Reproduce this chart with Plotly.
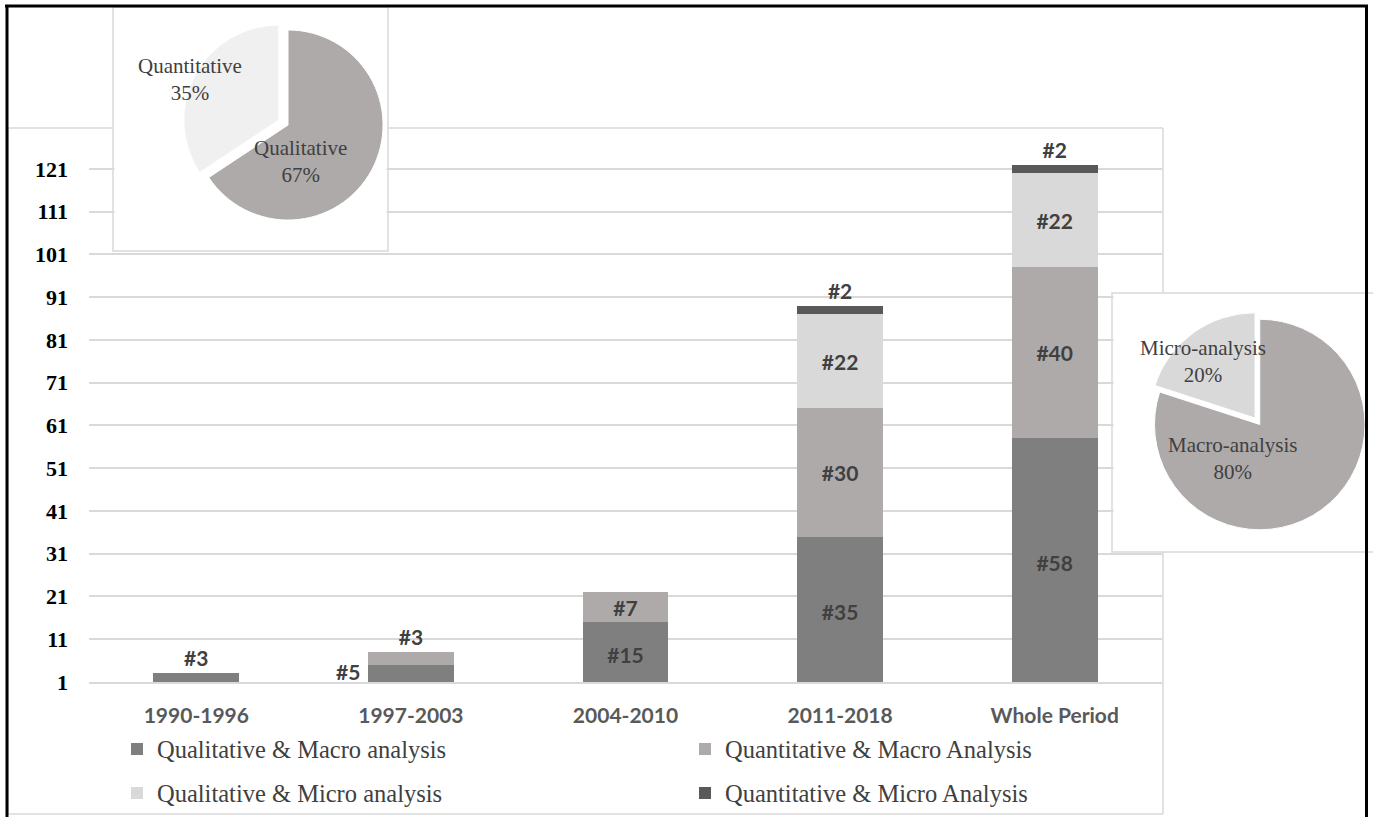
import plotly.graph_objects as go

# ---------------- data ----------------
categories = ["1990-1996", "1997-2003", "2004-2010", "2011-2018", "Whole Period"]
qual_macro = [3, 5, 15, 35, 58]
quant_macro = [None, 3, 7, 30, 40]
qual_micro = [None, None, None, 22, 22]
quant_micro = [None, None, None, 2, 2]
series_names = [
    "Qualitative & Macro analysis",
    "Quantitative & Macro Analysis",
    "Qualitative & Micro analysis",
    "Quantitative & Micro Analysis",
]
series_colors = ["#7f7f7f", "#aeaaaa", "#d9d9d9", "#595959"]

method_labels = ["Qualitative", "Quantitative"]
method_values = [67, 35]
method_pct_text = ["67%", "35%"]
method_colors = ["#aeaaaa", "#f0f0f0"]

scope_labels = ["Macro-analysis", "Micro-analysis"]
scope_values = [80, 20]
scope_pct_text = ["80%", "20%"]
scope_colors = ["#aeaaaa", "#d9d9d9"]

y_tick_values = [1, 11, 21, 31, 41, 51, 61, 71, 81, 91, 101, 111, 121]

# ---------------- layout geometry (pixels) ----------------
W, H = 1373, 817
PL, PR = 89, 1162          # plot area left/right
PB, PT = 682, 139          # plot area bottom/top
Y0, Y1 = 1, 128            # y range


def px(x):
    return x / W


def py(y):
    return 1 - y / H


def dx(x):
    return (x - PL) / ((PR - PL) / len(categories)) - 0.5


def dy(y):
    return Y0 + (PB - y) / ((PB - PT) / (Y1 - Y0))


BAR_FONT = dict(family="Lato", size=21, color="#404040", weight="bold")
SERIF = "Liberation Serif"

fig = go.Figure()

series = [qual_macro, quant_macro, qual_micro, quant_micro]
positions = [
    ["outside", "none", "inside", "inside", "inside"],
    ["inside", "outside", "inside", "inside", "inside"],
    ["inside", "inside", "inside", "inside", "inside"],
    ["outside", "outside", "outside", "outside", "outside"],
]
for i, (vals, name, col, pos) in enumerate(zip(series, series_names, series_colors, positions)):
    labels = [("#%d" % v) if v is not None else "" for v in vals]
    fig.add_trace(go.Bar(
        x=categories, y=vals, name=name,
        marker=dict(color=col, line=dict(width=0)),
        text=labels, texttemplate="%{text}", textposition=pos,
        insidetextanchor="middle", constraintext="none", textangle=0,
        textfont=BAR_FONT, insidetextfont=BAR_FONT, outsidetextfont=BAR_FONT,
        legend="legend" if i < 2 else "legend2",
    ))

# inset pies
fig.add_trace(go.Pie(
    labels=method_labels, values=method_values, sort=False, direction="clockwise",
    rotation=0, pull=[0, 0.11], textinfo="none", showlegend=False,
    marker=dict(colors=method_colors, line=dict(color="white", width=1)),
    domain=dict(x=[px(182.5), px(393.5)], y=[py(230.5), py(19.5)]),
))
fig.add_trace(go.Pie(
    labels=scope_labels, values=scope_values, sort=False, direction="clockwise",
    rotation=0, pull=[0, 0.076], textinfo="none", showlegend=False,
    marker=dict(colors=scope_colors, line=dict(color="white", width=1)),
    domain=dict(x=[px(1146.5), 1.0], y=[py(537.75), py(311.25)]),
))

GRID = "#d9d9d9"
shapes = []


def line(x0, y0, x1, y1, color=GRID, width=1.5, layer="below"):
    shapes.append(dict(type="line", xref="paper", yref="paper",
                       x0=px(x0), y0=py(y0), x1=px(x1), y1=py(y1),
                       line=dict(color=color, width=width), layer=layer))


# chart frame (split where insets cover it)
line(8, 128, 8, 814)
line(8, 814, 1163, 814)
line(8, 128, 113, 128)
line(388, 128, 1163, 128)
line(1163, 128, 1163, 293)
line(1163, 552, 1163, 814)
# inset frames
shapes.append(dict(type="rect", xref="paper", yref="paper", x0=px(113), x1=px(388),
                   y0=py(251), y1=py(7), line=dict(color=GRID, width=1.5), layer="below"))
shapes.append(dict(type="rect", xref="paper", yref="paper", x0=px(1112), x1=px(1390),
                   y0=py(552), y1=py(293), line=dict(color=GRID, width=1.5), layer="below"))
# white backgrounds of insets hiding gridlines
shapes.append(dict(type="rect", xref="x", yref="y", x0=dx(114.5), x1=dx(386.5),
                   y0=dy(249.8), y1=dy(8), fillcolor="white", line=dict(width=0), layer="between"))
shapes.append(dict(type="rect", xref="x", yref="y", x0=dx(1113.5), x1=dx(1400),
                   y0=dy(550.8), y1=dy(294.2), fillcolor="white", line=dict(width=0), layer="between"))
# outer black border
line(7, 5, 7, 817, color="black", width=3, layer="above")
line(5, 6, 1368, 6, color="black", width=3, layer="above")
line(1366.5, 5, 1366.5, 817, color="black", width=3, layer="above")

PIE_FONT = dict(family=SERIF, size=21, color="#404040")
pie_ann = dict(xref="paper", yref="paper", showarrow=False, font=PIE_FONT,
               xanchor="center", yanchor="middle", align="center")
annotations = [
    dict(x=px(190), y=py(80), text=f"{method_labels[1]}<br>{method_pct_text[1]}", **pie_ann),
    dict(x=px(300), y=py(161), text=f"{method_labels[0]}<br>{method_pct_text[0]}", **pie_ann),
    dict(x=px(1203), y=py(362), text=f"{scope_labels[1]}<br>{scope_pct_text[1]}", **pie_ann),
    dict(x=px(1232), y=py(459), text=f"{scope_labels[0]}<br>{scope_pct_text[0]}", **pie_ann),
    dict(xref="x", yref="y", x=categories[1], y=3.5, xanchor="right", yanchor="middle",
         xshift=-49, text=f"#{qual_macro[1]}", showarrow=False, font=BAR_FONT),
]

LEG_FONT = dict(family=SERIF, size=24.5, color="#404040")
legend_common = dict(orientation="h", xanchor="left", yanchor="middle",
                     entrywidth=523, entrywidthmode="pixels", font=LEG_FONT,
                     bgcolor="rgba(0,0,0,0)", traceorder="normal", itemclick=False)

fig.update_layout(
    template="none",
    width=W, height=H,
    margin=dict(l=0, r=0, t=0, b=0),
    paper_bgcolor="white", plot_bgcolor="rgba(0,0,0,0)",
    barmode="stack", bargap=0.6,
    showlegend=True,
    legend=dict(x=px(117), y=py(749), **legend_common),
    legend2=dict(x=px(117), y=py(793), **legend_common),
    xaxis=dict(domain=[px(PL), px(PR)], range=[-0.5, len(categories) - 0.5],
               showgrid=False, showline=True, linecolor=GRID, linewidth=1.5,
               ticks="", tickfont=dict(family="Lato", size=21, color="#595959", weight="bold"),
               ticklabelstandoff=14, fixedrange=True),
    yaxis=dict(domain=[py(PB), py(PT)], range=[Y0, Y1],
               tickmode="array", tickvals=y_tick_values,
               ticktext=[str(v) for v in y_tick_values],
               showgrid=True, gridcolor=GRID, gridwidth=1.5, zeroline=False,
               showline=False, ticks="",
               tickfont=dict(family=SERIF, size=22, color="black", weight="bold"),
               ticklabelstandoff=20, fixedrange=True),
    shapes=shapes,
    annotations=annotations,
)

fig.write_html("out.html")
